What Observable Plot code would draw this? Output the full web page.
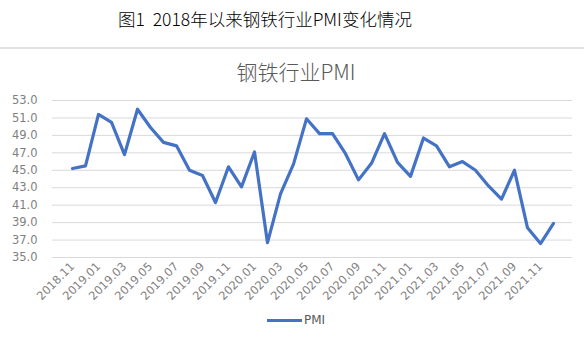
<!DOCTYPE html>
<html><head><meta charset="utf-8">
<script src="https://cdn.jsdelivr.net/npm/d3@7"></script>
<script src="https://cdn.jsdelivr.net/npm/@observablehq/plot@0.6"></script>
<style>
body{margin:0;background:#fff;width:584px;height:337px;position:relative;overflow:hidden;font-family:"Noto Sans CJK SC",sans-serif;}
#cap{position:absolute;left:-27px;top:6px;width:584px;line-height:25px;text-align:center;font-size:17.5px;font-weight:300;color:#000;white-space:pre;}
#rule{position:absolute;left:0;top:47px;width:584px;height:2px;background:#e2e2e2;}
#title{position:absolute;left:4px;top:59px;width:584px;line-height:25px;text-align:center;font-size:21px;font-weight:300;color:#595959;}
#chart{position:absolute;left:0;top:85px;}
#leg{position:absolute;left:267px;top:311px;height:18px;display:flex;align-items:center;font-family:"DejaVu Sans",sans-serif;font-size:12px;color:#595959;}
#leg span.sw{display:inline-block;width:35px;height:3px;background:#4472c4;margin-right:2px;}
</style>
</head><body>
<div id="cap">图1  2018年以来钢铁行业PMI变化情况</div>
<div id="rule"></div>
<div id="title">钢铁行业PMI</div>
<div id="chart"></div>
<div id="leg"><span class="sw"></span>PMI</div>
<script>
const months = ["2018.11","2018.12","2019.01","2019.02","2019.03","2019.04","2019.05","2019.06","2019.07","2019.08","2019.09","2019.10","2019.11","2019.12","2020.01","2020.02","2020.03","2020.04","2020.05","2020.06","2020.07","2020.08","2020.09","2020.10","2020.11","2020.12","2021.01","2021.02","2021.03","2021.04","2021.05","2021.06","2021.07","2021.08","2021.09","2021.10","2021.11","2021.12"];
const pmi = [45.2,45.5,51.4,50.5,46.8,52.0,49.9,48.2,47.8,45.0,44.4,41.3,45.4,43.1,47.1,36.7,42.3,45.7,50.9,49.2,49.2,46.9,43.9,45.8,49.2,45.9,44.3,48.7,47.8,45.4,46.0,45.0,43.2,41.7,45.0,38.4,36.6,38.9];
const xTicks = ["2018.11","2019.01","2019.03","2019.05","2019.07","2019.09","2019.11","2020.01","2020.03","2020.05","2020.07","2020.09","2020.11","2021.01","2021.03","2021.05","2021.07","2021.09","2021.11"];
const yTicks = [35,37,39,41,43,45,47,49,51,53];

const data = months.map((m, i) => ({month: m, pmi: pmi[i]}));

const chart = Plot.plot({
  width: 584, height: 220,
  marginLeft: 52, marginRight: 12, marginTop: 15, marginBottom: 48,
  style: {fontFamily: "DejaVu Sans, sans-serif", fontSize: "11.5px", color: "#7f7f7f", background: "transparent"},
  x: {type: "point", domain: months, padding: 0.5, label: null},
  y: {domain: [35, 53], label: null},
  marks: [
    Plot.gridY(yTicks, {stroke: "#d9d9d9", strokeOpacity: 1, strokeWidth: 1}),
    Plot.axisY(yTicks, {tickSize: 0, tickPadding: 15, tickFormat: d => d.toFixed(1), label: null, fill: "#7f7f7f"}),
    Plot.axisX(xTicks, {tickSize: 0, tickRotate: -45, tickPadding: 7, label: null, fill: "#7f7f7f"}),
    Plot.line(data, {x: "month", y: "pmi", stroke: "#4472c4", strokeWidth: 3.2, strokeLinejoin: "round"})
  ]
});
document.getElementById("chart").appendChild(chart);
</script>
</body></html>
